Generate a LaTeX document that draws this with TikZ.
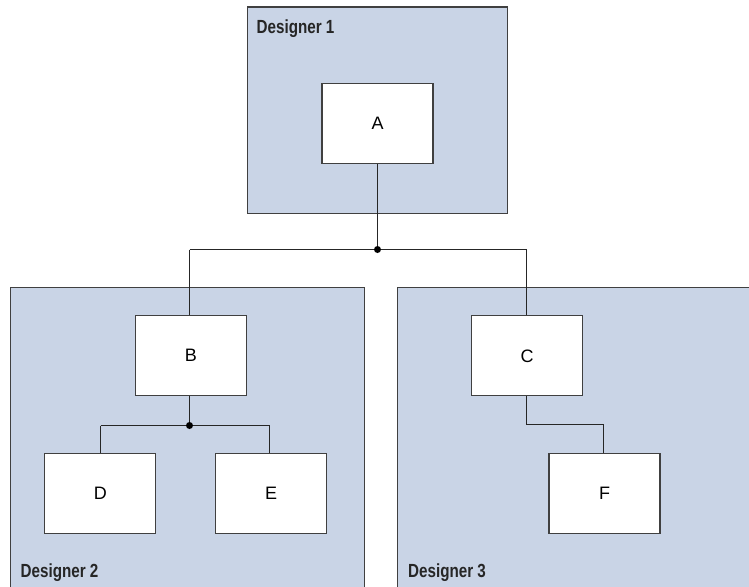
\documentclass[tikz,border=0pt]{standalone}
\usepackage{fontspec}
\setmainfont{Liberation Sans}
\newfontfamily\condbold[FakeStretch=0.8]{Liberation Sans Bold}
\begin{document}
\begin{tikzpicture}[x=1pt,y=-1pt,
  group/.style={draw=black!75,line width=1.2pt,fill=groupblue},
  item/.style={draw=black!75,line width=1.2pt,fill=white,minimum width=111pt,minimum height=80pt,inner sep=0pt,font=\fontsize{18}{20}\selectfont},
  grouplabel/.style={anchor=base west,inner sep=0pt,font=\condbold\fontsize{19}{22}\selectfont,text=black!85},
  link/.style={draw=black!85,line width=1.1pt},
  junction/.style={circle,fill=black,inner sep=0pt,minimum size=7pt}]
\definecolor{groupblue}{HTML}{C9D4E6}
\useasboundingbox (0,0) rectangle (749,586);
\begin{scope}
\clip (0,0) rectangle (749,586);
\draw[group] (247.5,7) rectangle (507.5,213.5);
\draw[group] (10.5,287.5) rectangle (364.5,600);
\draw[group] (397.5,287.5) rectangle (760,600);
\end{scope}
\node[grouplabel] (l1) at (256.5,33.5) {Designer 1};
\node[grouplabel] (l2) at (20.5,577.5) {Designer 2};
\node[grouplabel] (l3) at (408,577.5) {Designer 3};
\node[item] (A) at (377.5,123.5) {A};
\node[item] (B) at (191,355.8) {B};
\node[item] (C) at (527,355.8) {C};
\node[item] (D) at (100.3,493.7) {D};
\node[item] (E) at (271,493.7) {E};
\node[item] (F) at (604.5,493.7) {F};
\coordinate (j1) at (377.5,249.5);
\coordinate (j2) at (189.5,425.5);
\coordinate (j3) at (526.5,424.5);
\coordinate (bl) at (189.5,249.5);
\coordinate (cr) at (526.5,249.5);
\coordinate (dl) at (100.5,425.5);
\coordinate (er) at (269.5,425.5);
\coordinate (fr) at (603.5,424.5);
\draw[link] (A.south -| j1) -- (j1);
\draw[link] (bl) -- (cr);
\draw[link] (bl) -- (bl |- B.north);
\draw[link] (cr) -- (cr |- C.north);
\draw[link] (j2 |- B.south) -- (j2);
\draw[link] (dl) -- (er);
\draw[link] (dl) -- (dl |- D.north);
\draw[link] (er) -- (er |- E.north);
\draw[link] (j3 |- C.south) -- (j3) -- (fr) -- (fr |- F.north);
\node[junction] (d1) at (j1) {};
\node[junction] (d2) at (j2) {};
\end{tikzpicture}
\end{document}
